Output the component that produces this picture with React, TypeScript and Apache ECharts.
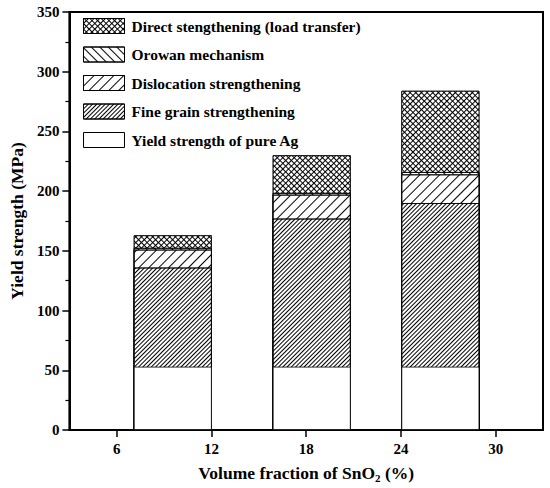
import React, { useEffect, useRef } from "react";
import * as echarts from "echarts";

const xPositions = [9.55, 18.35, 26.5];
const xTicks = [6, 12, 18, 24, 30];
const pureAg = [53, 53, 53];
const fineGrain = [83, 124, 137];
const dislocation = [15, 20, 24];
const orowan = [1.5, 1.5, 2];
const direct = [10.5, 31.5, 68];

const names = [
  "Direct stengthening (load transfer)",
  "Orowan mechanism",
  "Dislocation strengthening",
  "Fine grain strengthening",
  "Yield strength of pure Ag",
];

const FONT = "'Liberation Serif', 'Times New Roman', serif";

// layers from bottom to top
const layers = [pureAg, fineGrain, dislocation, orowan, direct];
// cumulative top of each layer (bars are drawn overlapping, top layer behind)
const cumulative = layers.map((_, li) =>
  xPositions.map((_, i) => layers.slice(0, li + 1).reduce((s, arr) => s + arr[i], 0))
);

const pair = (vals: number[]) => vals.map((v, i) => [xPositions[i], v]);

export default function App() {
  const ref = useRef<HTMLDivElement>(null);
  useEffect(() => {
    if (!ref.current) return;
    const chart = echarts.init(ref.current, undefined, { renderer: "svg" });
    const border = { borderColor: "#000", borderWidth: 0.8 };
    const hatch = (gap: number, rot: number) => ({
      symbol: "rect",
      symbolSize: 1,
      color: "#000",
      dashArrayX: [1, 0],
      dashArrayY: [1, gap],
      rotation: rot,
    });
    const styles: any[] = [
      { color: "#fff", ...border },
      { color: "#fff", ...border, decal: hatch(2, -Math.PI / 4) },
      { color: "#fff", ...border, decal: hatch(6, -Math.PI / 4) },
      { color: "#fff", ...border, decal: hatch(5, Math.PI / 4) },
      {
        color: "#000",
        ...border,
        decal: {
          symbol: "rect",
          symbolSize: 1,
          color: "#fff",
          dashArrayX: [3, 1],
          dashArrayY: [3, 1],
          rotation: Math.PI / 4,
        },
      },
    ];
    const layerNames = [names[4], names[3], names[2], names[1], names[0]];
    const series = layers
      .map((_, li) => ({
        name: layerNames[li],
        type: "bar",
        barWidth: 78,
        barGap: "-100%",
        z: 10 - li,
        data: pair(cumulative[li]),
        itemStyle: styles[li],
        emphasis: { disabled: true },
      }))
      .reverse();
    chart.setOption({
      animation: false,
      backgroundColor: "#fff",
      textStyle: { fontFamily: FONT },
      grid: {
        left: 67,
        right: 7,
        top: 12,
        bottom: 56,
        show: true,
        borderColor: "#000",
        borderWidth: 2,
        backgroundColor: "transparent",
      },
      legend: {
        orient: "vertical",
        left: 83,
        top: 18,
        itemWidth: 41,
        itemHeight: 15,
        itemGap: 12.5,
        padding: 0,
        icon: "rect",
        selectedMode: false,
        data: names,
        textStyle: {
          fontFamily: FONT,
          fontWeight: "bold",
          fontSize: 15.5,
          color: "#000",
          padding: [0, 0, 0, 2],
        },
        itemStyle: { borderColor: "#000", borderWidth: 1 },
      },
      xAxis: {
        type: "value",
        min: 3,
        max: 33,
        name: "Volume fraction of SnO{sub|2} (%)",
        nameLocation: "middle",
        nameGap: 33,
        nameTextStyle: {
          fontFamily: FONT,
          fontWeight: "bold",
          fontSize: 17.5,
          color: "#000",
          lineHeight: 20,
          rich: {
            sub: {
              fontFamily: FONT,
              fontWeight: "bold",
              fontSize: 11,
              lineHeight: 11,
              verticalAlign: "bottom",
              color: "#000",
            },
          },
        },
        axisLine: { show: true, lineStyle: { color: "#000", width: 2 } },
        axisTick: {
          show: true,
          inside: false,
          length: 7,
          lineStyle: { color: "#000", width: 1.5 },
          customValues: xTicks,
        },
        axisLabel: {
          customValues: xTicks,
          margin: 11,
          fontFamily: FONT,
          fontWeight: "bold",
          fontSize: 15,
          color: "#000",
        },
        splitLine: { show: false },
      },
      yAxis: {
        type: "value",
        min: 0,
        max: 350,
        interval: 50,
        name: "Yield strength (MPa)",
        nameLocation: "middle",
        nameGap: 34,
        nameTextStyle: {
          fontFamily: FONT,
          fontWeight: "bold",
          fontSize: 17.5,
          color: "#000",
        },
        axisLine: { show: true, lineStyle: { color: "#000", width: 2 } },
        axisTick: {
          show: true,
          inside: false,
          length: 7,
          lineStyle: { color: "#000", width: 1.5 },
        },
        minorTick: {
          show: true,
          splitNumber: 2,
          length: 4,
          lineStyle: { color: "#000", width: 1.2 },
        },
        axisLabel: {
          margin: 10,
          fontFamily: FONT,
          fontWeight: "bold",
          fontSize: 15,
          color: "#000",
        },
        splitLine: { show: false },
      },
      series,
    });
    return () => chart.dispose();
  }, []);
  return (
    <div
      ref={ref}
      style={{ position: "fixed", left: 0, top: 0, width: 550, height: 488 }}
    />
  );
}
